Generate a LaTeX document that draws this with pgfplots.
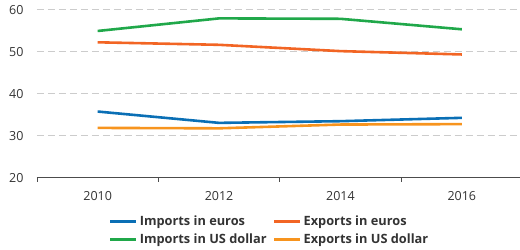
\documentclass[border=0pt]{standalone}
\usepackage{fontspec}
\setmainfont{Open Sans}
\usepackage{pgfplots}
\pgfplotsset{compat=1.18}
\definecolor{cblue}{HTML}{0A6FB5}
\definecolor{cred}{HTML}{F26524}
\definecolor{cgreen}{HTML}{20A84A}
\definecolor{corange}{HTML}{F7941E}
\definecolor{cgrid}{HTML}{CCCCCC}
\definecolor{ctext}{HTML}{333333}
\begin{document}
\fontsize{12}{14}\selectfont
\begin{tikzpicture}
\begin{axis}[
  scale only axis,
  width=483pt, height=168pt,
  xmin=-0.5, xmax=3.475,
  ymin=20, ymax=60,
  axis x line*=bottom, axis y line*=left,
  y axis line style={draw=none},
  x axis line style={draw=black!70, line width=0.8pt},
  xtick={0,1,2,3},
  xticklabels={2010,2012,2014,2016},
  minor xtick={-0.5,0.5,1.5,2.5},
  major x tick style={draw=none},
  minor x tick style={draw=black!70, line width=0.8pt},
  minor tick length=4pt,
  tick align=outside,
  ytick={20,30,40,50,60},
  major y tick style={draw=none},
  ymajorgrids,
  grid style={cgrid, dashed, dash pattern=on 7pt off 4pt, line width=1pt},
  tick label style={font=\fontsize{12.5}{14}\selectfont, text=ctext},
  /pgf/number format/assume math mode=true,
  xticklabel style={yshift=-5pt},
  yticklabel style={xshift=-5pt},
  legend columns=2,
  legend cell align=left,
  legend style={draw=none, fill=none, at={(0.482,-0.2)}, anchor=north,
    font=\bfseries\fontsize{12.8}{15}\selectfont, text=ctext,
    /tikz/every even column/.append style={column sep=4pt},
    row sep=3pt},
  legend image code/.code={\draw[#1, line width=3pt] (0pt,0pt) -- (26pt,0pt);},
  every axis plot/.append style={line width=2.6pt},
]
\addplot[cblue] coordinates {(0,35.8) (1,33.1) (2,33.5) (3,34.3)};
\addlegendentry{Imports in euros}
\addplot[cred] coordinates {(0,52.3) (1,51.7) (2,50.2) (3,49.4)};
\addlegendentry{Exports in euros}
\addplot[cgreen] coordinates {(0,55.0) (1,58.0) (2,57.9) (3,55.4)};
\addlegendentry{Imports in US dollar}
\addplot[corange] coordinates {(0,31.9) (1,31.8) (2,32.7) (3,32.8)};
\addlegendentry{Exports in US dollar}
\end{axis}
\path[use as bounding box] (-37pt,-69pt) rectangle (483pt,178pt);
\end{tikzpicture}
\end{document}
